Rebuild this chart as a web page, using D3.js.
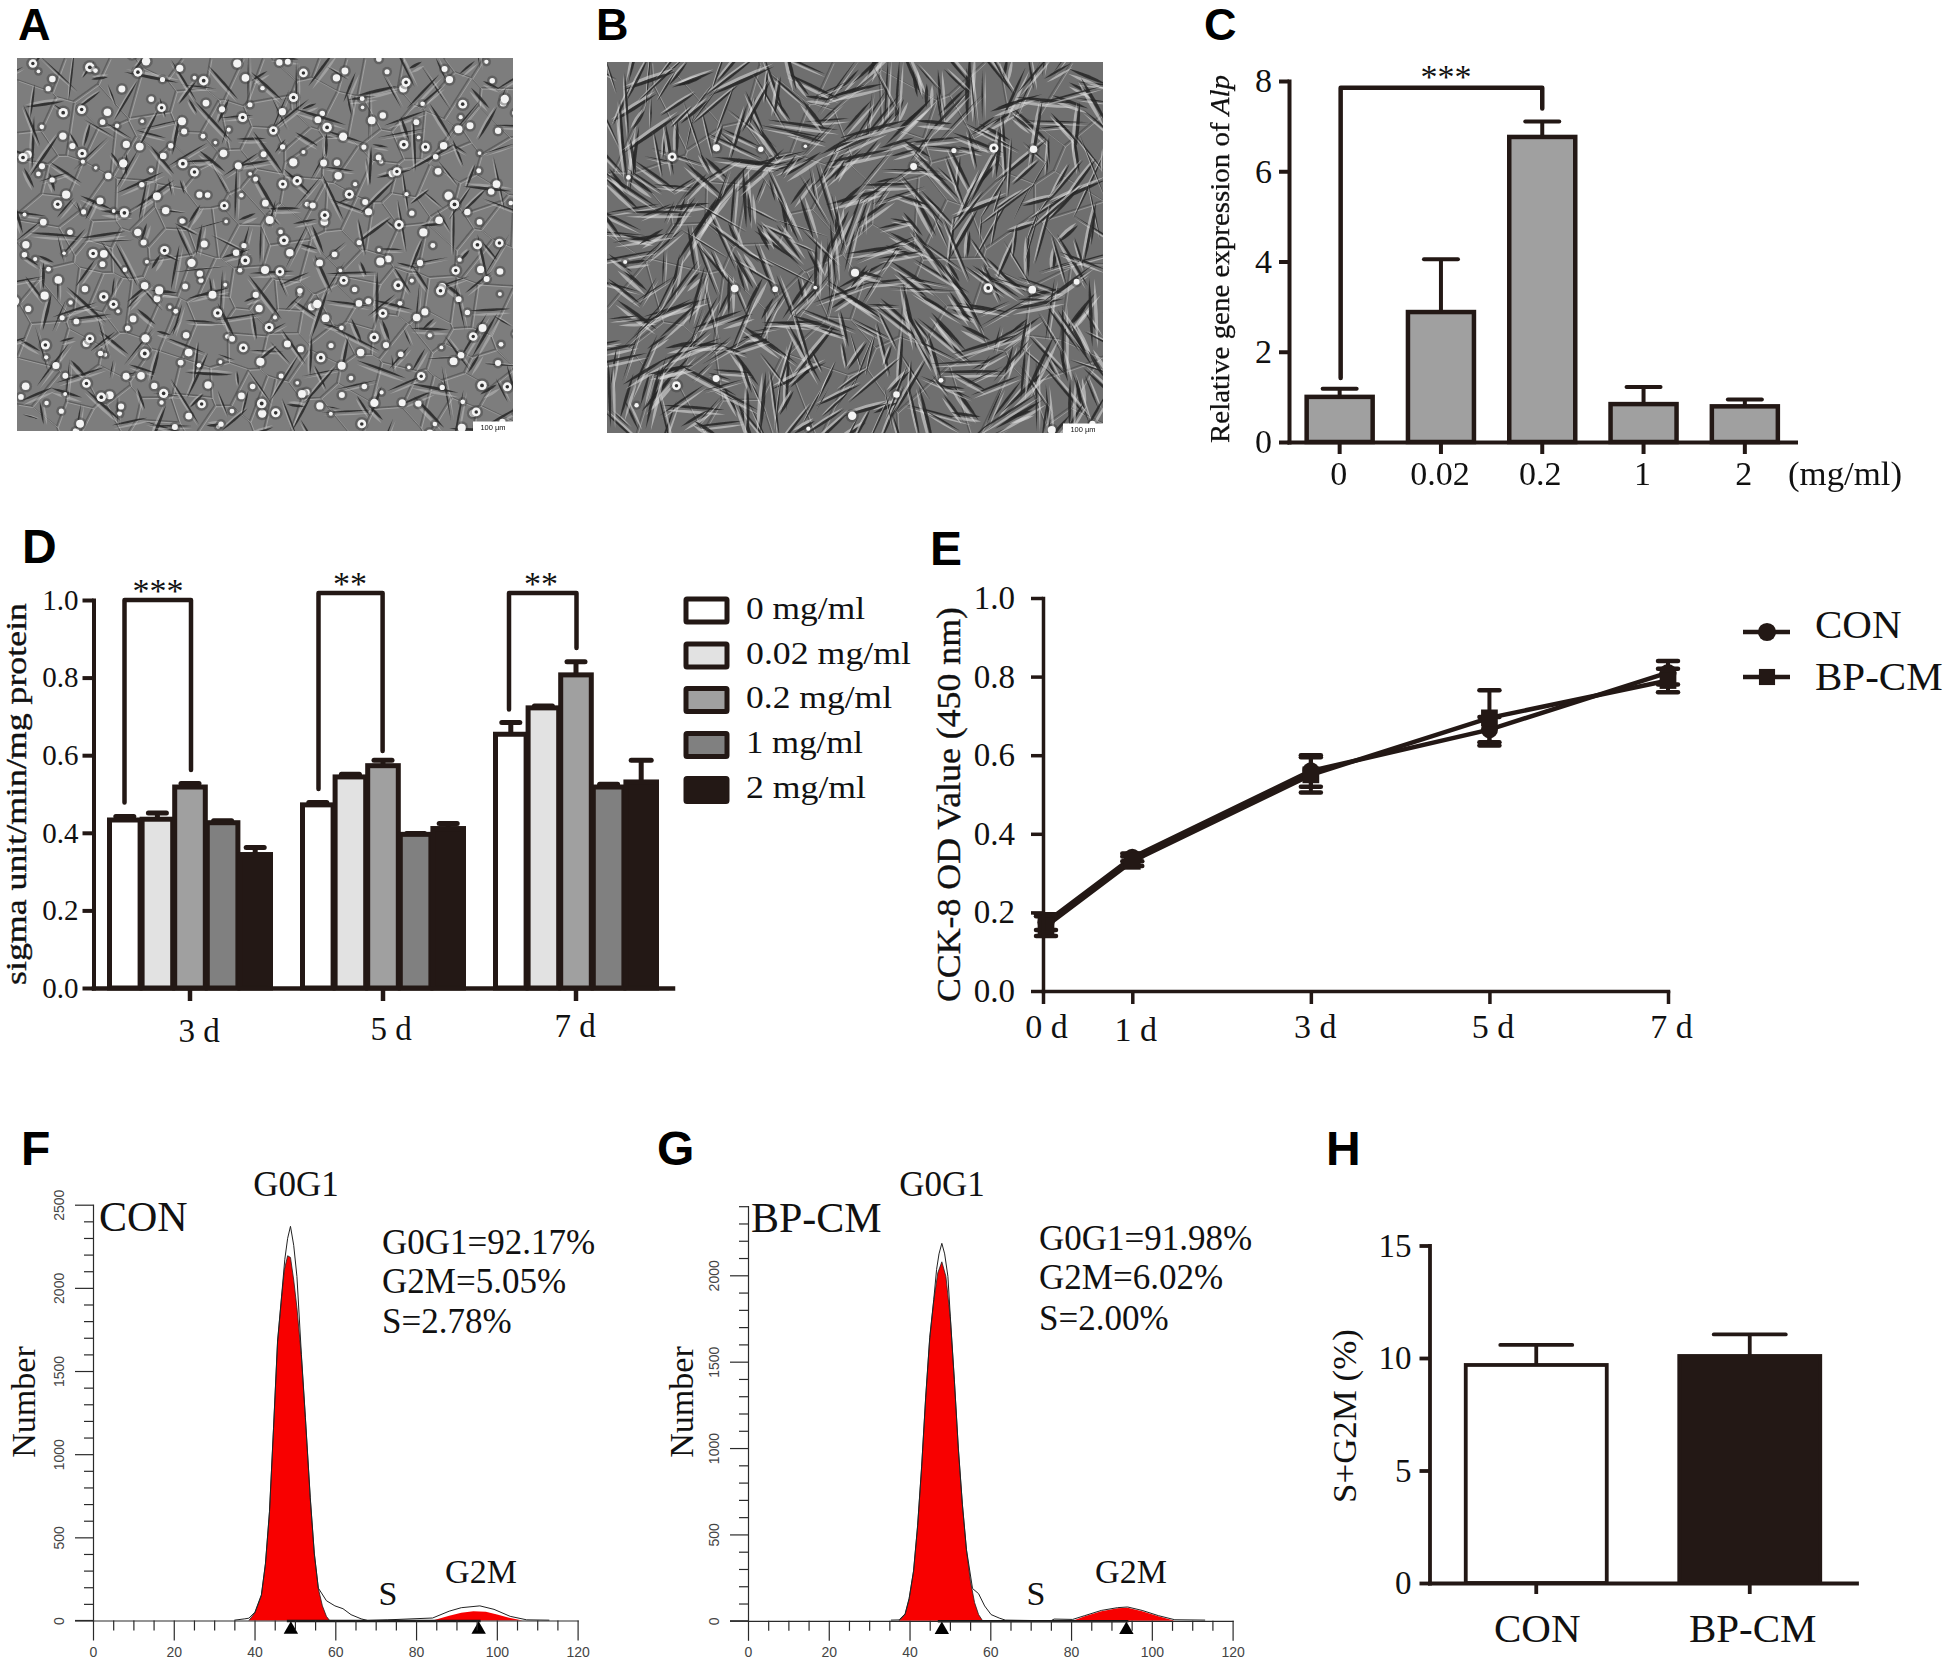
<!DOCTYPE html>
<html><head><meta charset="utf-8">
<style>html,body{margin:0;padding:0;background:#fff}svg{display:block}</style>
<script src="https://cdn.jsdelivr.net/npm/d3@7/dist/d3.min.js"></script>
</head><body><div id="c"></div>
<script>
// ---------- data ----------
const cCats=["0","0.02","0.2","1","2"];
const cVals=[1.0,2.88,6.76,0.84,0.79];
const cCaps=[1.18,4.05,7.1,1.22,0.94];
const cTicks=[0,2,4,6,8];

const dGroups=["3 d","5 d","7 d"];
const dDoses=["0 mg/ml","0.02 mg/ml","0.2 mg/ml","1 mg/ml","2 mg/ml"];
const dColors=["#ffffff","#e2e2e2","#a0a0a0","#808080","#231815"];
const d3Vals=[0.433,0.435,0.518,0.426,0.344];
const d3Caps=[0.442,0.451,0.527,0.431,0.362];
const d5Vals=[0.472,0.544,0.573,0.396,0.411];
const d5Caps=[0.478,0.551,0.587,0.398,0.424];
const d7Vals=[0.654,0.722,0.807,0.518,0.531];
const d7Caps=[0.684,0.727,0.841,0.525,0.587];
const dTicks=[0,0.2,0.4,0.6,0.8,1.0];

const eDays=[0,1,3,5,7];
const eCon=[0.175,0.34,0.56,0.665,0.81];
const eConErr=[0.02,0.01,0.04,0.032,0.03];
const eBp=[0.165,0.33,0.55,0.695,0.79];
const eBpErr=[0.025,0.012,0.045,0.07,0.03];
const eTicks=[0,0.2,0.4,0.6,0.8,1.0];

const fRedX=[38.6,40.1,41.7,42.7,43.7,44.7,45.7,46.7,47.4,48.2,48.9,49.7,50.5,51.6,52.6,53.8,54.8,55.8,56.8,57.8,58.6];
const fRedY=[0,46,150,338,650,1150,1672,1943,2110,2193,2183,2047,1880,1589,1213,734,400,192,88,25,0];
const fRed2X=[84.1,88.2,91.2,94.2,97.3,100.3,103.3,106.4];
const fRed2Y=[0,29,46,56,52,35,15,0];
const fOutX=[35,37.6,38.6,40.1,41.7,42.7,43.7,44.7,45.7,46.7,47.5,48.2,48.9,49.7,50.5,51.6,52.6,53.8,54.8,55.8,57.8,59.9,61.9,63.9,66.4,68,73,84.1,88.2,91.2,95.8,99.3,103.3,107.4,113];
const fOutY=[2,10,14,50,155,342,655,1155,1680,1950,2172,2298,2370,2256,2068,1600,1220,740,405,195,119,88,71,35,10,0,4,15,56,77,88,67,25,4,2];
const fMarks=[49,95.5];

const gRedX=[37.4,38.9,39.9,41,42,43,44,45,46,47,48,49,50.1,51.1,52.1,53.1,54.1,55.1,56.1,57.1,58.1];
const gRedY=[0,36,126,287,548,890,1291,1633,1853,2014,2078,1994,1753,1392,990,669,408,227,106,36,0];
const gRed2X=[80.4,83.4,87.5,91.5,94,97.6,101.6,105.7];
const gRed2Y=[0,26,56,72,76,56,26,0];
const gOutX=[35.4,37.4,38.9,39.9,41,42,43,44,45,46,46.7,47.3,48,48.7,49.5,50.1,51.1,52.1,53.1,54.1,55.6,57.1,58.6,60.2,62.2,63.7,75,75.8,80.4,83.4,87.5,91.5,94,97.6,101.6,105.7,113.2];
const gOutY=[4,5,40,130,290,552,895,1295,1640,1860,2034,2124,2185,2124,1994,1760,1395,995,672,412,187,157,86,36,16,4,0,10,8,30,60,76,80,60,30,6,4];
const gMarks=[48,93.7];

const fgXTicks=[0,5,10,15,20,25,30,35,40,45,50,55,60,65,70,75,80,85,90,95,100,105,110,115,120];
const fYTicks=[0,100,200,300,400,500,600,700,800,900,1000,1100,1200,1300,1400,1500,1600,1700,1800,1900,2000,2100,2200,2300,2400,2500];
const gYTicks=[0,100,200,300,400,500,600,700,800,900,1000,1100,1200,1300,1400,1500,1600,1700,1800,1900,2000,2100,2200,2300,2400];
const fStats=["G0G1=92.17%","G2M=5.05%","S=2.78%"];
const gStats=["G0G1=91.98%","G2M=6.02%","S=2.00%"];

const hCats=["CON","BP-CM"];
const hVals=[9.69,10.09];
const hCaps=[10.58,11.05];
const hColors=["#ffffff","#231815"];
const hTicks=[0,5,10,15];

// ---------- helpers ----------
const INK="#231815",SERIF="'Liberation Serif',serif",SANS="'Liberation Sans',Arial,sans-serif";
const svg=d3.select("#c").append("svg").attr("width",1946).attr("height",1664).attr("viewBox","0 0 1946 1664");
const defs=svg.append("defs");

function label(x,y,str,o={}){
  const t=svg.append("text").attr("transform",`translate(${x},${y})`+(o.rot?` rotate(${o.rot})`:""))
    .attr("font-family",o.family||SERIF).attr("font-size",o.size||32).attr("fill",o.fill||"#111")
    .attr("font-weight",o.weight||"normal").attr("text-anchor",o.anchor||"start").text(str);
  if(o.len)t.attr("textLength",o.len).attr("lengthAdjust","spacingAndGlyphs");
  if(o.stroke)t.attr("stroke",t.attr("fill")).attr("stroke-width",o.stroke);
  return t;
}
function styleAxis(g,o){
  g.attr("font-family",o.family||SERIF).attr("font-size",o.size).attr("fill","#111");
  g.select(".domain").attr("stroke",o.color||INK).attr("stroke-width",o.width).attr("fill","none").attr("stroke-linecap","square");
  g.selectAll(".tick line").attr("stroke",o.color||INK).attr("stroke-width",o.width);
  g.selectAll(".tick text").attr("fill",o.textColor||"#111");
}
function errorBar(x,yFrom,yTo,cap,w){
  svg.append("line").attr("x1",x).attr("x2",x).attr("y1",yFrom).attr("y2",yTo).attr("stroke",INK).attr("stroke-width",w);
  svg.append("line").attr("x1",x-cap/2).attr("x2",x+cap/2).attr("y1",yTo).attr("y2",yTo).attr("stroke",INK).attr("stroke-width",w).attr("stroke-linecap","round");
}
function bracket(x1,x2,yL,yTop,yR,w){
  svg.append("path").attr("d",d3.line()([[x1,yL],[x1,yTop],[x2,yTop],[x2,yR]])).attr("fill","none")
    .attr("stroke",INK).attr("stroke-width",w).attr("stroke-linejoin","round").attr("stroke-linecap","round");
}

// ---------- panel letters ----------
const letters=[["A",18,40,45],["B",596,40,45],["C",1204,40,45],["D",22,563,48],["E",930,565,48],["F",21,1165,48],["G",657,1165,48],["H",1326,1165,48]];
letters.forEach(l=>label(l[1],l[2],l[0],{family:SANS,size:l[3],weight:"bold",fill:"#000"}));

// ---------- micrographs A, B (phase-contrast texture, not data) ----------
const frac=v=>v-Math.floor(v);
const blur=defs.append("filter").attr("id","soft").attr("x","-2%").attr("y","-2%").attr("width","104%").attr("height","104%");
blur.append("feGaussianBlur").attr("stdDeviation",0.7);
function micro(id,o){
  const {x,y,w,h}=o;
  defs.append("clipPath").attr("id",id).append("rect").attr("x",x).attr("y",y).attr("width",w).attr("height",h);
  const root=svg.append("g").attr("clip-path",`url(#${id})`);
  root.append("rect").attr("x",x).attr("y",y).attr("width",w).attr("height",h).attr("fill",o.bg);
  const g=root.append("g").attr("filter","url(#soft)");
  // flat cell bodies
  const seeds=d3.range(o.bodies).map(i=>[x+w*frac(i*0.7548776662+0.13)+16*Math.sin(i*2.399),y+h*frac(i*0.5698402910+0.31)+16*Math.cos(i*1.733)]);
  const vor=d3.Delaunay.from(seeds).voronoi([x,y,x+w,y+h]);
  g.append("path").attr("d",vor.render()).attr("fill","none").attr("stroke","#3f3f3f").attr("stroke-width",o.edge).attr("stroke-opacity",0.5);
  g.append("path").attr("d",vor.render()).attr("transform","translate(1.8,1.5)").attr("fill","none").attr("stroke","#d8d8d8").attr("stroke-width",1).attr("stroke-opacity",0.4);
  // spindles
  d3.range(o.spindles).forEach(i=>{
    const u=frac(i*0.7548776662),v=frac(i*0.5698402910),a=frac(i*0.6180339887),b=frac(i*0.41421356);
    const cx=x+w*u+12*Math.sin(i*1.1),cy=y+h*v+12*Math.cos(i*0.7);
    const th=o.flow*Math.sin(u*7+v*5)+Math.cos(v*9-u*4)+(a-0.5)*o.jitter;
    const L=o.lenMin+o.lenRange*b,wd=1.2+o.fat*a;
    const dx=Math.cos(th)*L/2,dy=Math.sin(th)*L/2,nx=-Math.sin(th)*wd,ny=Math.cos(th)*wd;
    const d=`M${cx-dx},${cy-dy}Q${cx+nx},${cy+ny} ${cx+dx},${cy+dy}Q${cx-nx},${cy-ny} ${cx-dx},${cy-dy}Z`;
    g.append("path").attr("d",d).attr("transform",`translate(${nx*1.2+1},${ny*1.2+1})`).attr("fill","#e2e2e2").attr("fill-opacity",o.halo);
    g.append("path").attr("d",d).attr("fill","#262626").attr("fill-opacity",0.85);
  });
  // bright rounded cells
  d3.range(o.dots).forEach(i=>{
    const u=frac(i*0.8191725134+0.4),v=frac(i*0.6710436067+0.2),a=frac(i*0.5497004779);
    const cx=x+w*u+10*Math.sin(i*3.1),cy=y+h*v+10*Math.cos(i*2.3),r=1.8+3*a;
    g.append("circle").attr("cx",cx).attr("cy",cy).attr("r",r+2.5).attr("fill","#3a3a3a").attr("fill-opacity",0.4);
    g.append("circle").attr("cx",cx).attr("cy",cy).attr("r",r).attr("fill","#f4f4f4");
    if(a>0.8)g.append("circle").attr("cx",cx).attr("cy",cy).attr("r",r*0.4).attr("fill","#333");
  });
  root.append("rect").attr("x",x+w-40).attr("y",y+h-9.5).attr("width",40).attr("height",9.5).attr("fill","#fff");
  label(x+w-20,y+h-1.5,"100 µm",{family:SANS,size:7.5,anchor:"middle"});
}
micro("mA",{x:17,y:58,w:496,h:373,bg:"#7d7d7d",bodies:170,edge:1.4,spindles:330,lenMin:14,lenRange:42,fat:2,flow:1.2,jitter:3,halo:0.35,dots:340});
micro("mB",{x:607,y:62,w:496,h:371,bg:"#6f6f6f",bodies:70,edge:1.2,spindles:620,lenMin:22,lenRange:50,fat:2.6,flow:1.6,jitter:1,halo:0.55,dots:26});

// ---------- panel C ----------
{
  const x=d3.scaleBand().domain(cCats).range([1289,1795.5]);
  const y=d3.scaleLinear().domain([0,8]).range([442,81]);
  const W=4,BW=66;
  cCats.forEach((c,i)=>{
    errorBar(x(c)+x.bandwidth()/2,y(cVals[i]),y(cCaps[i]),34,W);
    svg.append("rect").attr("x",x(c)+x.bandwidth()/2-BW/2).attr("y",y(cVals[i])).attr("width",BW).attr("height",y(0)-y(cVals[i]))
      .attr("fill","#a0a0a0").attr("stroke",INK).attr("stroke-width",W+0.5);
  });
  const gy=svg.append("g").attr("transform","translate(1289,0)").call(d3.axisLeft(y).tickValues(cTicks).tickSize(10).tickSizeOuter(0).tickPadding(7));
  styleAxis(gy,{size:34,width:4});
  const gx=svg.append("g").attr("transform","translate(0,442)").call(d3.axisBottom(x).tickSize(12).tickSizeOuter(0));
  styleAxis(gx,{size:34,width:4});
  gx.selectAll(".tick text").attr("y",43).attr("dy",0).attr("dx",(d,i)=>[-1,-1,-2,-1,-1][i]);
  const cx=c=>x(c)+x.bandwidth()/2;
  bracket(cx("0")+1,cx("0.2"),y(1.42),y(7.85),y(7.39),4.5);
  label(1446,88,"***",{size:34,anchor:"middle"});
  label(1788,485,"(mg/ml)",{size:34,len:114});
  const t=label(1229,443,"",{size:28,rot:-90,len:368,stroke:0.25});
  t.append("tspan").text("Relative gene expression of ");
  t.append("tspan").attr("font-style","italic").text("Alp");
}

// ---------- panel D ----------
{
  const x=d3.scaleBand().domain(dGroups).range([93.5,672.5]);
  const inner=d3.scaleBand().domain(dDoses).range([15,178]);
  const y=d3.scaleLinear().domain([0,1]).range([988,600]);
  const W=4;
  const vals=[d3Vals,d5Vals,d7Vals],caps=[d3Caps,d5Caps,d7Caps];
  dGroups.forEach((g,gi)=>dDoses.forEach((d,i)=>{
    const bx=x(g)+inner(d),bw=inner.bandwidth();
    errorBar(bx+bw/2,y(vals[gi][i]),y(caps[gi][i]),i===4&&gi===2?20:18,W+1);
    svg.append("rect").attr("x",bx+1).attr("y",y(vals[gi][i])).attr("width",bw-2).attr("height",y(0)-y(vals[gi][i]))
      .attr("fill",dColors[i]).attr("stroke",INK).attr("stroke-width",W+1);
  }));
  const gy=svg.append("g").attr("transform","translate(93.5,0)").call(d3.axisLeft(y).tickValues(dTicks).tickFormat(d3.format(".1f")).tickSize(11).tickSizeOuter(0).tickPadding(4));
  styleAxis(gy,{size:29,width:4});
  const gx=svg.append("g").attr("transform","translate(0,988)").call(d3.axisBottom(x).tickSize(13).tickSizeOuter(0).tickFormat(()=>""));
  styleAxis(gx,{size:32,width:4.5});
  const dLabelX=[199,391,575],dLabelY=[1042,1040,1037];
  dGroups.forEach((g,i)=>label(dLabelX[i],dLabelY[i],g,{size:33,anchor:"middle"}));
  bracket(124.5,191,y(0.478),y(1.0),y(0.562),4.5);
  bracket(318.5,382.6,y(0.513),y(1.018),y(0.611),4.5);
  bracket(509,576.5,y(0.718),y(1.018),y(0.876),4.5);
  label(158,602,"***",{size:34,anchor:"middle"});
  label(350,595,"**",{size:34,anchor:"middle"});
  label(541,595,"**",{size:34,anchor:"middle"});
  const ly=[610.6,655.6,700,745,790];
  dDoses.forEach((d,i)=>{
    svg.append("rect").attr("x",686).attr("y",ly[i]-11.5).attr("width",41).attr("height",23)
      .attr("fill",dColors[i]).attr("stroke",INK).attr("stroke-width",5).attr("rx",1);
    label(746,ly[i]+8,d,{size:31,len:[119,165,146,117,120][i]});
  });
  label(26,985,"sigma unit/min/mg protein",{size:29,rot:-90,len:382,stroke:0.35});
}

// ---------- panel E ----------
{
  const x=d3.scaleLinear().domain([0,7]).range([1043,1668]);
  const y=d3.scaleLinear().domain([0,1]).range([991,598]);
  const W=3.5;
  const ln=d3.line().x((d,i)=>x(eDays[i])+(i===0?3:0)).y(d=>y(d));
  [[eCon,eConErr],[eBp,eBpErr]].forEach(([v,e])=>{
    svg.append("path").attr("d",ln(v)).attr("fill","none").attr("stroke",INK).attr("stroke-width",4.5);
    v.forEach((d,i)=>{
      const px=x(eDays[i])+(i===0?3:0);
      svg.append("line").attr("x1",px).attr("x2",px).attr("y1",y(d-e[i])).attr("y2",y(d+e[i])).attr("stroke",INK).attr("stroke-width",4);
      [d-e[i],d+e[i]].forEach(q=>svg.append("line").attr("x1",px-10).attr("x2",px+10).attr("y1",y(q)).attr("y2",y(q)).attr("stroke",INK).attr("stroke-width",4.5).attr("stroke-linecap","round"));
    });
  });
  const pts=(v,sym,size)=>v.forEach((d,i)=>svg.append("path").attr("d",d3.symbol(sym,size)()).attr("fill",INK)
    .attr("transform",`translate(${x(eDays[i])+(i===0?3:0)},${y(d)})`));
  pts(eCon,d3.symbolCircle,230);
  pts(eBp,d3.symbolSquare,280);
  const gy=svg.append("g").attr("transform","translate(1043,0)").call(d3.axisLeft(y).tickValues(eTicks).tickFormat(d3.format(".1f")).tickSize(12).tickSizeOuter(0).tickPadding(16));
  styleAxis(gy,{size:33,width:W});
  const gx=svg.append("g").attr("transform","translate(0,991)").call(d3.axisBottom(x).tickValues(eDays).tickSize(13).tickSizeOuter(0).tickFormat(d=>d+" d"));
  styleAxis(gx,{size:34,width:W});
  gx.selectAll(".tick text").attr("y",(d,i)=>[47,50,47,47,47][i]).attr("dy",0).attr("dx",(d,i)=>[3,3,4,3,3][i]);
  // legend
  [[632,d3.symbolCircle,"CON",638],[677,d3.symbolSquare,"BP-CM",690]].forEach(r=>{
    svg.append("line").attr("x1",1743).attr("x2",1790).attr("y1",r[0]).attr("y2",r[0]).attr("stroke",INK).attr("stroke-width",4.5);
    svg.append("path").attr("d",d3.symbol(r[1],260)()).attr("fill",INK).attr("transform",`translate(1767,${r[0]})`);
    label(1815,r[3],r[2],{size:41});
  });
  label(960,1002,"CCK-8 OD Value (450 nm)",{size:33,rot:-90,len:395,stroke:0.35});
}

// ---------- panels F, G ----------
function histo(o){
  const x=d3.scaleLinear().domain([0,120]).range(o.xr);
  const y=d3.scaleLinear().domain(o.yd).range(o.yr);
  const ax=x(0),ay=y(0),C="#2a2a2a";
  const toPts=(X,Y)=>X.map((v,i)=>[v,Y[i]]);
  const area=d3.area().x(d=>x(d[0])).y0(ay).y1(d=>y(d[1]));
  [[o.redX,o.redY],[o.red2X,o.red2Y]].forEach(([a,b])=>svg.append("path").attr("d",area(toPts(a,b))).attr("fill","#f80000"));
  const thick=d3.line().x(d=>x(d[0])).y(d=>y(d[1]));
  svg.append("path").attr("d",thick(toPts(o.redX,o.redY))).attr("fill","none").attr("stroke","#222").attr("stroke-width",0.8);
  svg.append("path").attr("d",thick(toPts(o.outX,o.outY))).attr("fill","none").attr("stroke","#222").attr("stroke-width",1);
  svg.append("line").attr("x1",x(o.marks[0]-1)).attr("x2",x(o.marks[1]+0.5)).attr("y1",ay+0.5).attr("y2",ay+0.5).attr("stroke","#111").attr("stroke-width",2.5);
  o.marks.forEach(m=>svg.append("path").attr("d",d3.symbol(d3.symbolTriangle,90)()).attr("fill","#000").attr("transform",`translate(${x(m)},${ay+9})`));
  const gx=svg.append("g").attr("transform",`translate(0,${ay})`).call(d3.axisBottom(x).tickValues(fgXTicks).tickSizeOuter(0).tickFormat(d=>d%20===0?d:""));
  gx.selectAll(".tick line").attr("y2",d=>d%20===0?20:10);
  gx.selectAll(".tick text").attr("y",36).attr("dy",0);
  styleAxis(gx,{family:SANS,size:14,width:1.2,color:C,textColor:"#444"});
  const gy=svg.append("g").attr("transform",`translate(${ax},0)`).call(d3.axisLeft(y).tickValues(o.yTicks).tickSizeOuter(0).tickFormat(d=>d%500===0?d:""));
  gy.selectAll(".tick line").attr("x2",d=>d%500===0?-18:-9);
  gy.selectAll(".tick text").attr("x",0).attr("dy",0).attr("text-anchor","middle").attr("transform",`translate(${-o.labelDx},0) rotate(-90)`);
  styleAxis(gy,{family:SANS,size:14,width:1.2,color:C,textColor:"#444"});
  svg.append("line").attr("x1",ax-18).attr("x2",ax).attr("y1",ay).attr("y2",ay).attr("stroke",C).attr("stroke-width",1.2);
  label(o.peak[0],o.peak[1],"G0G1",{size:35,anchor:"middle"});
  label(o.name[0],o.name[1],o.name[2],{size:42});
  o.stats.forEach((s,i)=>label(o.statX,o.statY[i],s,{size:35}));
  label(o.s[0],o.s[1],"S",{size:34,anchor:"middle"});
  label(o.g2[0],o.g2[1],"G2M",{size:34,anchor:"middle"});
  label(o.num,1402,"Number",{size:34,rot:-90,anchor:"middle"});
}
histo({xr:[93,577.6],yd:[0,2500],yr:[1620.5,1204.7],yTicks:fYTicks,labelDx:29,redX:fRedX,redY:fRedY,red2X:fRed2X,red2Y:fRed2Y,outX:fOutX,outY:fOutY,marks:fMarks,
  peak:[296,1196],name:[99,1231,"CON"],stats:fStats,statX:382,statY:[1254,1293,1333],s:[388,1605],g2:[481,1583],num:35});
histo({xr:[748,1232.6],yd:[0,2400],yr:[1620.8,1206.2],yTicks:gYTicks,labelDx:29,redX:gRedX,redY:gRedY,red2X:gRed2X,red2Y:gRed2Y,outX:gOutX,outY:gOutY,marks:gMarks,
  peak:[942,1196],name:[751,1232,"BP-CM"],stats:gStats,statX:1039,statY:[1250,1289,1330],s:[1036,1605],g2:[1131,1583],num:693});

// ---------- panel H ----------
{
  const x=d3.scaleBand().domain(hCats).range([1429.5,1856.5]);
  const y=d3.scaleLinear().domain([0,15]).range([1583,1245.5]);
  const W=3.8,BW=141;
  hCats.forEach((c,i)=>{
    const cx=x(c)+x.bandwidth()/2;
    errorBar(cx,y(hVals[i]),y(hCaps[i]),72,W);
    svg.append("rect").attr("x",cx-BW/2).attr("y",y(hVals[i])).attr("width",BW).attr("height",y(0)-y(hVals[i]))
      .attr("fill",hColors[i]).attr("stroke",INK).attr("stroke-width",W);
  });
  const gy=svg.append("g").attr("transform","translate(1429.5,0)").call(d3.axisLeft(y).tickValues(hTicks).tickSize(10).tickSizeOuter(0).tickPadding(8));
  styleAxis(gy,{size:33,width:W});
  const gx=svg.append("g").attr("transform","translate(0,1583)").call(d3.axisBottom(x).tickSize(11).tickSizeOuter(0));
  styleAxis(gx,{size:41,width:W});
  gx.selectAll(".tick text").attr("y",59).attr("dy",0).attr("dx",(d,i)=>[1,3][i]);
  label(1356,1503,"S+G2M (%)",{size:34,rot:-90,len:174});
}
</script></body></html>
